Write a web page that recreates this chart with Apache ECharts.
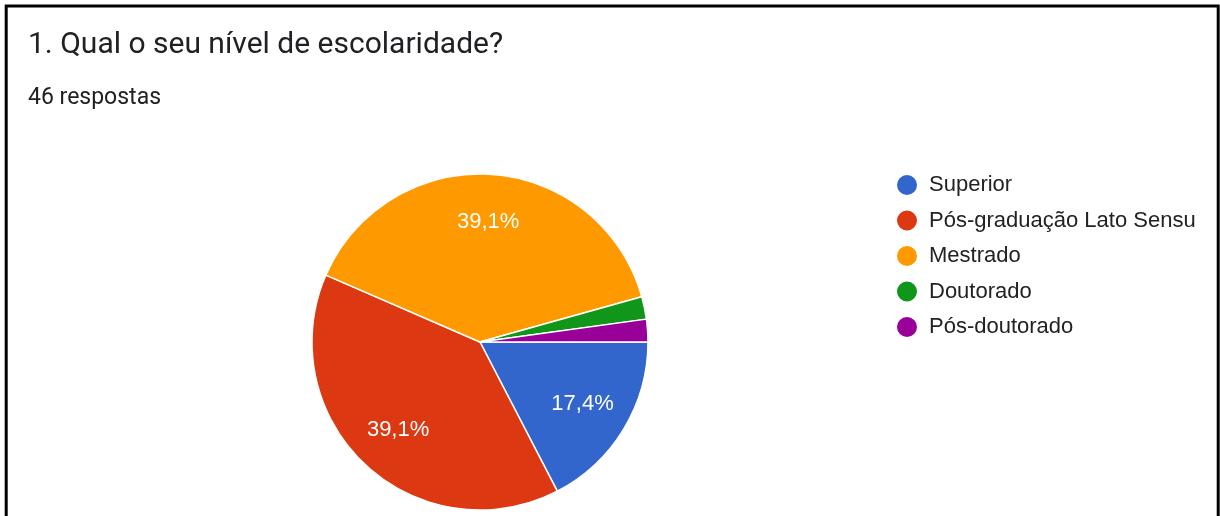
<!DOCTYPE html>
<html>
<head>
<meta charset="utf-8">
<script src="https://cdn.jsdelivr.net/npm/echarts@6/dist/echarts.min.js"></script>
<style>
html,body{margin:0;padding:0;background:#fff;}
#chart{width:1220px;height:516px;}
</style>
</head>
<body>
<div id="chart"></div>
<script>
const titleText = "1. Qual o seu nível de escolaridade?";
const subtitleText = "46 respostas";
const categories = ["Superior", "Pós-graduação Lato Sensu", "Mestrado", "Doutorado", "Pós-doutorado"];
const counts = [8, 18, 18, 1, 1];
const colors = ["#3366cc", "#dc3912", "#ff9900", "#109618", "#990099"];

const data = categories.map((c, i) => ({ name: c, value: counts[i], itemStyle: { color: colors[i] } }));

const chart = echarts.init(document.getElementById('chart'), null, { renderer: 'canvas' });
chart.setOption({
  animation: false,
  backgroundColor: '#fff',
  color: colors,
  title: [
    { text: titleText, left: 23, top: 25, textStyle: { fontFamily: 'Roboto', fontWeight: 'normal', fontSize: 30, color: '#202124' } },
    { text: subtitleText, left: 23, top: 82, textStyle: { fontFamily: 'Roboto', fontWeight: 'normal', fontSize: 23, color: '#202124' } }
  ],
  legend: {
    orient: 'vertical',
    left: 890,
    top: 168,
    icon: 'circle',
    itemWidth: 22,
    itemHeight: 22,
    itemGap: 11.5,
    textStyle: { fontFamily: '"Liberation Sans", Arial', fontSize: 22, color: '#222', padding: [0, 0, 0, 6] },
    data: categories
  },
  graphic: [{
    type: 'rect',
    shape: { x: 6.2, y: 6, width: 1212, height: 530 },
    style: { fill: 'none', stroke: '#000', lineWidth: 3 },
    silent: true
  }],
  series: [
    {
      type: 'pie',
      center: [480, 342],
      radius: [0, 168],
      startAngle: 0,
      clockwise: true,
      data: data,
      label: { show: false },
      labelLine: { show: false },
      itemStyle: { borderColor: '#fff', borderWidth: 1.5 },
      emphasis: { disabled: true }
    },
    {
      type: 'pie',
      center: [480, 342],
      radius: [66, 168],
      startAngle: 0,
      clockwise: true,
      silent: true,
      legendHoverLink: false,
      percentPrecision: 1,
      data: categories.map((c, i) => ({ name: c, value: counts[i] })),
      itemStyle: { color: 'rgba(0,0,0,0)', borderWidth: 0 },
      label: {
        show: true,
        position: 'inner',
        fontFamily: '"Liberation Sans", Arial',
        fontSize: 22,
        color: '#fff',
        formatter: p => p.percent >= 5 ? String(p.percent.toFixed(1)).replace('.', ',') + '%' : ''
      },
      labelLine: { show: false },
      emphasis: { disabled: true }
    }
  ]
});
</script>
</body>
</html>
